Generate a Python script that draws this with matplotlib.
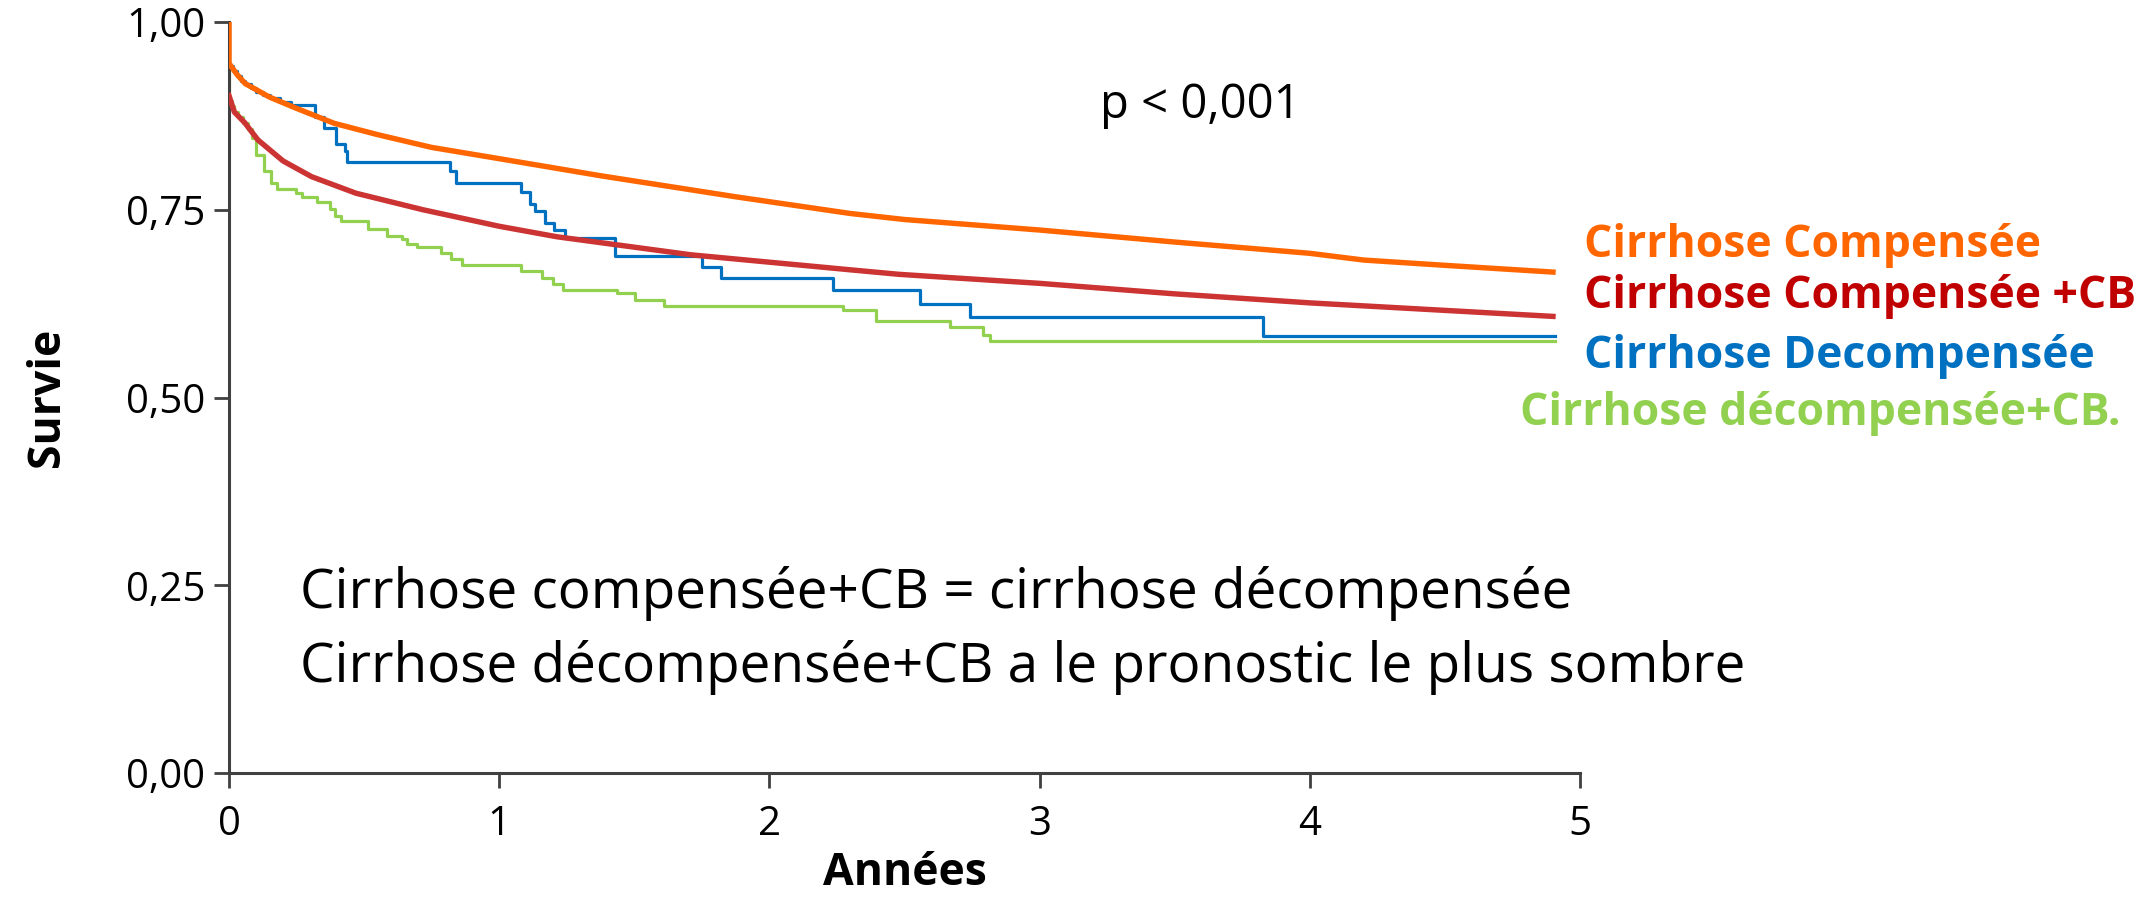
import matplotlib
matplotlib.use("Agg")
import matplotlib.pyplot as plt

plt.rcParams['font.family'] = ['Open Sans', 'DejaVu Sans']

# courbes lisses
orange_t = [0, 0, 0.03, 0.06, 0.15, 0.25, 0.39, 0.55, 0.75, 0.8, 1.0, 1.38, 1.88, 2.3, 2.5, 3.0, 3.5, 4.0, 4.2, 4.5, 4.9]
orange_s = [1.0, 0.945, 0.93, 0.918, 0.900, 0.885, 0.865, 0.850, 0.833, 0.830, 0.818, 0.795, 0.767, 0.745, 0.737, 0.723, 0.707, 0.692, 0.683, 0.676, 0.667]

red_t = [0, 0.02, 0.058, 0.107, 0.2, 0.306, 0.47, 0.718, 1.0, 1.214, 1.71, 2.3, 2.48, 3.0, 3.5, 4.0, 4.5, 4.9]
red_s = [0.902, 0.88, 0.866, 0.843, 0.815, 0.794, 0.772, 0.750, 0.728, 0.714, 0.690, 0.670, 0.664, 0.652, 0.638, 0.626, 0.616, 0.608]

# courbes en escalier
blue_t = [0, 0, 0.015, 0.03, 0.045, 0.06, 0.08, 0.1, 0.125, 0.15, 0.19, 0.23, 0.319, 0.350, 0.397, 0.430,
          0.438, 0.818, 0.839, 1.082, 1.115, 1.132, 1.168, 1.201, 1.244, 1.429, 1.751, 1.822, 2.235, 2.559,
          2.744, 3.827, 4.906]
blue_s = [1.0, 0.942, 0.935, 0.928, 0.922, 0.917, 0.912, 0.907, 0.903, 0.899, 0.894, 0.889, 0.874, 0.859,
          0.838, 0.828, 0.813, 0.801, 0.786, 0.773, 0.758, 0.748, 0.732, 0.723, 0.713, 0.688, 0.674, 0.659,
          0.643, 0.625, 0.607, 0.582, 0.582]

green_t = [0, 0, 0.01, 0.02, 0.035, 0.05, 0.07, 0.085, 0.099, 0.129, 0.157, 0.177, 0.248, 0.269, 0.327,
           0.372, 0.392, 0.413, 0.516, 0.583, 0.640, 0.658, 0.694, 0.785, 0.823, 0.864, 1.079, 1.160, 1.198,
           1.236, 1.437, 1.504, 1.611, 2.272, 2.396, 2.670, 2.790, 2.816, 4.906]
green_s = [1.0, 0.895, 0.888, 0.88, 0.873, 0.866, 0.858, 0.846, 0.823, 0.802, 0.785, 0.777, 0.772, 0.767,
           0.760, 0.751, 0.742, 0.735, 0.725, 0.715, 0.711, 0.704, 0.700, 0.692, 0.684, 0.677, 0.668, 0.659,
           0.651, 0.643, 0.639, 0.630, 0.622, 0.617, 0.602, 0.594, 0.583, 0.575, 0.575]

labels = ['Cirrhose Compensée', 'Cirrhose Compensée +CB', 'Cirrhose Decompensée', 'Cirrhose décompensée+CB.']
label_colors = ['#FF6600', '#C00000', '#0070C0', '#92D050']

yticks = [0, 0.25, 0.5, 0.75, 1.0]
ytick_labels = ['0,00', '0,25', '0,50', '0,75', '1,00']
xticks = [0, 1, 2, 3, 4, 5]

W, H = 2141, 898
fig = plt.figure(figsize=(W / 100, H / 100), dpi=100)
ax = fig.add_axes([229 / W, 1 - 773 / H, (1580 - 229) / W, (773 - 22) / H])

ax.step(green_t, green_s, where='post', color='#92D050', lw=2.3, zorder=1)
ax.step(blue_t, blue_s, where='post', color='#0070C0', lw=2.3, zorder=2)
ax.plot(red_t, red_s, color='#CC3333', lw=3.9, zorder=3)
ax.plot(orange_t, orange_s, color='#FF6600', lw=3.9, zorder=4)

ax.set_xlim(0, 5)
ax.set_ylim(0, 1)
ax.set_xticks(xticks)
ax.set_yticks(yticks)
ax.set_yticklabels(ytick_labels)
ax.tick_params(axis='both', direction='out', length=11, width=2, color='#404040', labelsize=29)
ax.tick_params(axis='y', pad=6)
ax.tick_params(axis='x', pad=12)
for s in ['top', 'right']:
    ax.spines[s].set_visible(False)
for s in ['left', 'bottom']:
    ax.spines[s].set_color('#404040')
    ax.spines[s].set_linewidth(2.2)

ax.set_xlabel('Années', fontsize=32, fontweight='bold', labelpad=4)
ax.set_ylabel('Survie', fontsize=32, fontweight='bold', labelpad=40)

label_pos = [(1584, 257), (1584, 308), (1584, 368), (1520, 425)]
for (px, py), txt, c in zip(label_pos, labels, label_colors):
    fig.text(px / W, 1 - py / H, txt, color=c, fontsize=32, fontweight='bold', ha='left', va='baseline')

fig.text(1100 / W, 1 - 118 / H, 'p < 0,001', fontsize=34, ha='left', va='baseline')
fig.text(300 / W, 1 - 608 / H, 'Cirrhose compensée+CB = cirrhose décompensée', fontsize=39.5, ha='left', va='baseline')
fig.text(300 / W, 1 - 682 / H, 'Cirrhose décompensée+CB a le pronostic le plus sombre', fontsize=39.5, ha='left', va='baseline')

fig.savefig('out.png', dpi=100)
